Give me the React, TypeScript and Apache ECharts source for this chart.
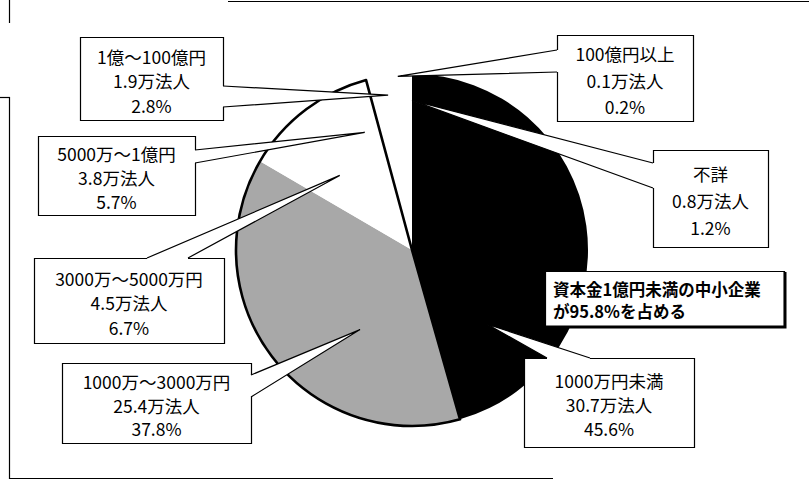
import React, { useEffect, useRef } from 'react';
import * as echarts from 'echarts';

// ---- data ----
const categories = ['1000万円未満', '1000万～3000万円', '3000万～5000万円', '5000万～1億円', '1億～100億円', '100億円以上', '不詳'];
const corpCounts = [30.7, 25.4, 4.5, 3.8, 1.9, 0.1, 0.8]; // 万法人
const shares = [45.6, 37.8, 6.7, 5.7, 2.8, 0.2, 1.2]; // %
const noteLines = ['資本金1億円未満の中小企業', 'が95.8%を占める'];

// ---- styles / layout ----
const sliceColors = ['#000000', '#a8a8a8', '#ffffff', '#ffffff', '#ffffff', '#ffffff', '#ffffff'];
const CX = 412, CY = 250, R = 176;
const boxes = [
  [524, 358, 170, 89],
  [62, 363, 189, 80],
  [34, 258, 190, 85],
  [38, 136, 157, 79],
  [80, 37, 143, 83],
  [557, 35, 136, 86],
  [653, 150, 115, 97],
];
const wedgeSide = ['t', 'r', 't', 'r', 'r', 'l', 'l'];
const wedgeBase = [[547, 590], [375, 397], [147, 188], [150, 163], [86, 107], [50, 72], [163, 188]];
const tipT = [0.82, 0.36, 0.65, 0.67, 0.63, 0.5, 1.0];
const tipR = [0.6, 0.54, 0.59, 0.72, 0.89, 0.99, 0.85];
const lineGap = [24, 23.5, 24.5, 24, 24.5, 26.5, 27];
const FONT = '"Noto Sans CJK JP", "Noto Sans", sans-serif';

export default function App() {
  const ref = useRef<HTMLDivElement>(null);
  useEffect(() => {
    if (!ref.current) return;
    const chart = echarts.init(ref.current, null, { renderer: 'svg' });

    const cum: number[] = [];
    let acc = 0;
    shares.forEach((s) => { cum.push(acc); acc += s; });
    const calloutData = shares.map((s, i) => [i, cum[i], s]);

    const outlineData = [
      { value: shares[0], itemStyle: { color: 'rgba(0,0,0,0)', borderWidth: 0 } },
      { value: shares[1] + shares[2] + shares[3], itemStyle: { color: 'rgba(0,0,0,0)', borderColor: '#000', borderWidth: 2.6 } },
      { value: shares[4] + shares[5] + shares[6], itemStyle: { color: 'rgba(0,0,0,0)', borderWidth: 0 } },
    ];

    const option: any = {
      animation: false,
      backgroundColor: '#ffffff',
      series: [
        {
          type: 'pie',
          center: [CX, CY],
          radius: R,
          startAngle: 90,
          clockwise: true,
          silent: true,
          z: 1,
          label: { show: false },
          labelLine: { show: false },
          emphasis: { disabled: true },
          itemStyle: { borderWidth: 0 },
          data: categories.map((c, i) => ({ name: c, value: shares[i], itemStyle: { color: sliceColors[i] } })),
        },
        {
          type: 'pie',
          center: [CX, CY],
          radius: R,
          startAngle: 90,
          clockwise: true,
          silent: true,
          z: 2,
          label: { show: false },
          labelLine: { show: false },
          emphasis: { disabled: true },
          data: outlineData,
        },
        {
          type: 'custom',
          coordinateSystem: 'none',
          silent: true,
          z: 5,
          data: calloutData,
          renderItem: (params: any, api: any) => {
            const i = api.value(0);
            const start = api.value(1);
            const share = api.value(2);
            const a = ((start + share * tipT[i]) / 100) * Math.PI * 2;
            const tip = [CX + R * tipR[i] * Math.sin(a), CY - R * tipR[i] * Math.cos(a)];
            const [bx, by, bw, bh] = boxes[i];
            const [u1, u2] = wedgeBase[i];
            let p1: number[], p2: number[], q1: number[], q2: number[];
            const side = wedgeSide[i];
            if (side === 't') { p1 = [u1, by]; p2 = [u2, by]; q1 = [u1, by + 2]; q2 = [u2, by + 2]; }
            else if (side === 'r') { p1 = [bx + bw, u1]; p2 = [bx + bw, u2]; q1 = [bx + bw - 2, u1]; q2 = [bx + bw - 2, u2]; }
            else { p1 = [bx, u1]; p2 = [bx, u2]; q1 = [bx + 2, u1]; q2 = [bx + 2, u2]; }
            const cxText = bx + bw / 2;
            const cyText = by + bh / 2 + 2;
            const g = lineGap[i];
            const lines = [categories[i], `${corpCounts[i]}万法人`, `${shares[i]}%`];
            return {
              type: 'group',
              children: [
                { type: 'rect', shape: { x: bx + 0.5, y: by + 0.5, width: bw, height: bh }, style: { fill: '#fff', stroke: '#000', lineWidth: 1.2 } },
                { type: 'polygon', shape: { points: [q1, p1, tip, p2, q2] }, style: { fill: '#fff', stroke: null } },
                { type: 'polyline', shape: { points: [p1, tip, p2] }, style: { fill: null, stroke: '#000', lineWidth: 1.2 } },
                ...lines.map((t, k) => ({
                  type: 'text',
                  style: {
                    text: t, x: cxText, y: cyText + (k - 1) * g,
                    align: 'center', verticalAlign: 'middle',
                    fontSize: 17.5, fontFamily: FONT, fill: '#000',
                  },
                })),
              ],
            };
          },
        },
      ],
      graphic: [
        { type: 'line', z: 50, shape: { x1: 9.5, y1: 0, x2: 9.5, y2: 23 }, style: { stroke: '#000', lineWidth: 1.2 } },
        { type: 'line', z: 50, shape: { x1: 9.5, y1: 97, x2: 9.5, y2: 479 }, style: { stroke: '#000', lineWidth: 1.2 } },
        { type: 'line', z: 50, shape: { x1: 0, y1: 97.5, x2: 10, y2: 97.5 }, style: { stroke: '#000', lineWidth: 1.2 } },
        { type: 'line', z: 50, shape: { x1: 9, y1: 478.5, x2: 553, y2: 478.5 }, style: { stroke: '#000', lineWidth: 1.2 } },
        { type: 'line', z: 50, shape: { x1: 228, y1: 1.5, x2: 809, y2: 1.5 }, style: { stroke: '#000', lineWidth: 1.2 } },
        { type: 'rect', z: 50, shape: { x: 545.5, y: 271.5, width: 239, height: 55 }, style: { fill: '#fff', stroke: '#000', lineWidth: 1.2 } },
        { type: 'polyline', z: 51, shape: { points: [[785, 272], [785, 327], [546, 327]] }, style: { fill: null, stroke: '#000', lineWidth: 3 } },
        { type: 'text', z: 52, style: { text: noteLines[0], x: 553, y: 289, align: 'left', verticalAlign: 'middle', fontSize: 16.5, lineHeight: 20, fontWeight: 'bold', fontFamily: FONT, fill: '#000' } },
        { type: 'text', z: 52, style: { text: noteLines[1], x: 553, y: 311, align: 'left', verticalAlign: 'middle', fontSize: 16.5, lineHeight: 20, fontWeight: 'bold', fontFamily: FONT, fill: '#000' } },
      ],
    };
    chart.setOption(option);
    return () => chart.dispose();
  }, []);
  return <div ref={ref} style={{ position: 'fixed', left: 0, top: 0, width: 809, height: 481 }} />;
}
